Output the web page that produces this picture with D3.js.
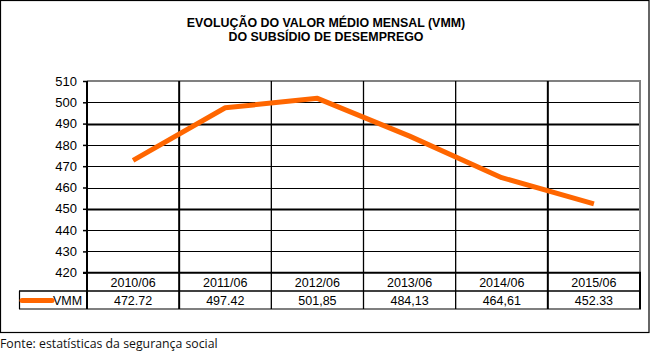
<!DOCTYPE html>
<html><head><meta charset="utf-8">
<script src="https://cdn.jsdelivr.net/npm/d3@7"></script>
<style>body{margin:0;background:#fff}svg{display:block}</style>
</head><body>
<script>
const categories = ["2010/06","2011/06","2012/06","2013/06","2014/06","2015/06"];
const values = [472.72, 497.42, 501.85, 484.13, 464.61, 452.33];
const valueLabels = ["472.72","497.42","501,85","484,13","464,61","452.33"];
const yTicks = [420,430,440,450,460,470,480,490,500,510];
const seriesName = "VMM";
const titleLines = ["EVOLUÇÃO DO VALOR MÉDIO MENSAL (VMM)","DO SUBSÍDIO DE DESEMPREGO"];
const source = "Fonte: estatísticas da segurança social";

const W=651,H=359;
const svg=d3.select("body").append("svg").attr("width",W).attr("height",H);
const L=87,R=640,T=81,B=272.7;
const x=d3.scaleBand().domain(categories).range([L,R]);
const y=d3.scaleLinear().domain([420,510]).range([B,T]);
const font="Liberation Sans, Arial, sans-serif";

// outer frame
svg.append("rect").attr("x",0.5).attr("y",0.5).attr("width",648.5).attr("height",332).attr("fill","none").attr("stroke","#000").attr("stroke-width",1.2);

// title
svg.append("g").selectAll("text").data(titleLines).join("text")
  .attr("x",326).attr("y",(d,i)=>27+i*14).attr("text-anchor","middle")
  .attr("font-family",font).attr("font-weight","bold").attr("font-size",12.4).text(d=>d);

// gridlines
const thick=new Set([450,490]);
svg.append("g").selectAll("line").data(yTicks.filter(t=>t!==510&&t!==420)).join("line")
  .attr("x1",L).attr("x2",R).attr("y1",d=>Math.round(y(d))+0.5).attr("y2",d=>Math.round(y(d))+0.5)
  .attr("stroke","#000").attr("stroke-width",d=>thick.has(d)?2:1);
// top gray border & right gray
svg.append("line").attr("x1",L).attr("x2",R+1).attr("y1",y(510)).attr("y2",y(510)).attr("stroke","#808080").attr("stroke-width",2);
svg.append("line").attr("x1",R).attr("x2",R).attr("y1",T).attr("y2",B).attr("stroke","#808080").attr("stroke-width",2);

// y axis
const yAxis=d3.axisLeft(y).tickValues(yTicks).tickSize(4).tickPadding(6);
const ga=svg.append("g").attr("transform",`translate(${L},0)`).call(yAxis);
ga.select(".domain").remove();
ga.selectAll("line").attr("stroke","#000").attr("stroke-width",1.5);
ga.selectAll("text").attr("font-family",font).attr("font-size",13).attr("fill","#000");

// vertical column lines (through plot and table)
const boundaries=categories.map(c=>x(c)).concat([R]);
const thickV=new Set([0,1,5]);
svg.append("g").selectAll("line").data(boundaries.slice(0,6)).join("line")
  .attr("x1",d=>d).attr("x2",d=>d).attr("y1",T).attr("y2",309)
  .attr("stroke","#000").attr("stroke-width",(d,i)=>thickV.has(i)?2:1.3);
svg.append("line").attr("x1",R).attr("x2",R).attr("y1",B).attr("y2",309).attr("stroke","#000").attr("stroke-width",2);

// table lines
const rowMid=291, rowBot=309;
svg.append("line").attr("x1",L-4).attr("x2",R+1).attr("y1",B).attr("y2",B).attr("stroke","#000").attr("stroke-width",2);
svg.append("line").attr("x1",19).attr("x2",R+1).attr("y1",rowMid).attr("y2",rowMid).attr("stroke","#000").attr("stroke-width",1.5);
svg.append("line").attr("x1",19).attr("x2",R+1).attr("y1",rowBot).attr("y2",rowBot).attr("stroke","#000").attr("stroke-width",1.2);
svg.append("line").attr("x1",19.5).attr("x2",19.5).attr("y1",rowMid).attr("y2",rowBot).attr("stroke","#000").attr("stroke-width",1.2);

// category labels
svg.append("g").selectAll("text").data(categories).join("text")
  .attr("x",d=>x(d)+x.bandwidth()/2).attr("y",286.5).attr("text-anchor","middle")
  .attr("font-family",font).attr("font-size",12.5).text(d=>d);
// value labels
svg.append("g").selectAll("text").data(valueLabels).join("text")
  .attr("x",(d,i)=>x(categories[i])+x.bandwidth()/2).attr("y",304.5).attr("text-anchor","middle")
  .attr("font-family",font).attr("font-size",12.5).text(d=>d);
// legend
svg.append("line").attr("x1",22).attr("x2",52).attr("y1",300.5).attr("y2",300.5).attr("stroke","#FF6600").attr("stroke-width",5).attr("stroke-linecap","round");
svg.append("text").attr("x",53).attr("y",304.5).attr("font-family",font).attr("font-size",12.5).text(seriesName);

// line
const line=d3.line().x((d,i)=>x(categories[i])+x.bandwidth()/2).y(d=>y(d));
svg.append("path").datum(values).attr("d",line).attr("fill","none").attr("stroke","#FF6600").attr("stroke-width",5).attr("stroke-linejoin","round");

// source
svg.append("text").attr("x",0).attr("y",348).attr("font-family","Open Sans, sans-serif").attr("font-size",12.3).attr("fill","#111").text(source);
</script>
</body></html>
